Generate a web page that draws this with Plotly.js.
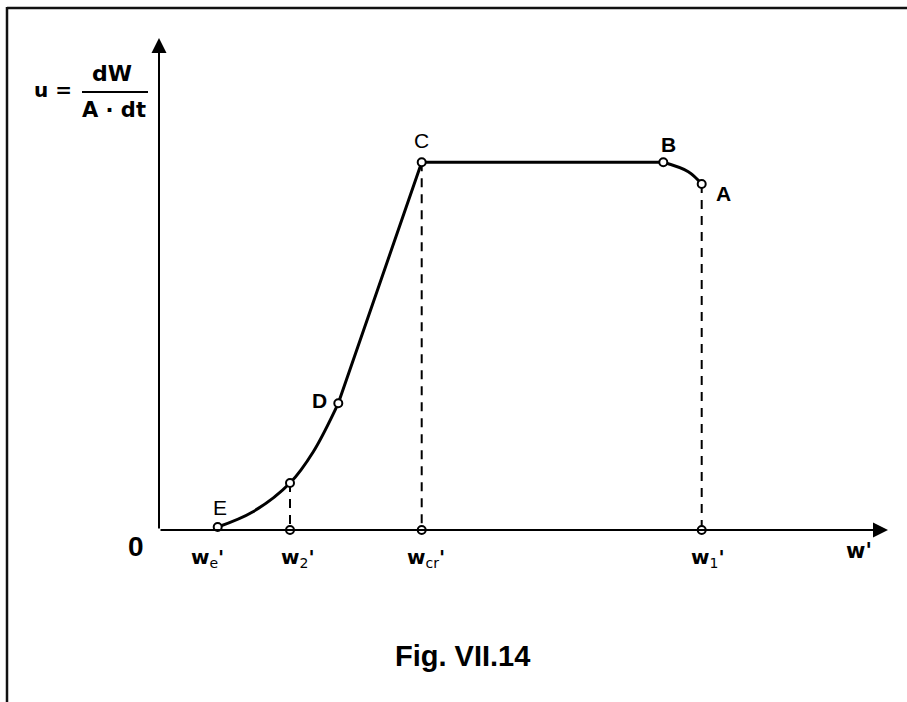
<!DOCTYPE html>
<html>
<head>
<meta charset="utf-8">
<script src="https://cdn.plot.ly/plotly-3.0.1.min.js"></script>
<style>html,body{margin:0;padding:0;background:#fff;}#chart{width:907px;height:702px;}</style>
</head>
<body>
<div id="chart"></div>
<script>
// ---- Data (arbitrary units) ----
// Curved segment E -> w2 point -> D
var curveEDx = [5.87, 9.4, 13.1, 15.43, 17.93];
var curveEDy = [0.3, 1.83, 4.7, 7.83, 12.67];
// Straight segments D -> C -> B
var lineDCBx = [17.93, 26.27, 50.43];
var lineDCBy = [12.67, 36.77, 36.77];
// Curved segment B -> A
var curveBAx = [50.43, 52.93, 54.27];
var curveBAy = [36.77, 35.83, 34.6];
// Labelled points on the curve
var pointNames = ["E", "", "D", "C", "B", "A"];
var pointX = [5.87, 13.1, 17.93, 26.27, 50.43, 54.27];
var pointY = [0.3, 4.7, 12.67, 36.77, 36.77, 34.6];
// Characteristic abscissas on the w' axis
var axisMarkX = [13.1, 26.27, 54.27];
var axisMarkY = [0, 0, 0];
var tickLabels = ["w<sub>e</sub>'", "w<sub>2</sub>'", "w<sub>cr</sub>'", "w<sub>1</sub>'"];
var axisMax = {x: 72.9, y: 49.2};

// ---- Layout helpers (pixel -> paper) ----
var L = 159, R = 19, T = 38, B = 172, W = 907, H = 702;
var pw = W - L - R, ph = H - T - B;
function px(x) { return (x - L) / pw; }
function py(y) { return (H - B - y) / ph; }

var font = "Liberation Sans, Arial, Helvetica, sans-serif";
var heavy = "DejaVu Sans, Liberation Sans, sans-serif";
var black = "#000";

var traces = [];
traces.push({x: curveEDx, y: curveEDy, mode: "lines", line: {color: black, width: 3, shape: "spline", smoothing: 1}, hoverinfo: "skip"});
traces.push({x: lineDCBx, y: lineDCBy, mode: "lines", line: {color: black, width: 3}, hoverinfo: "skip"});
traces.push({x: curveBAx, y: curveBAy, mode: "lines", line: {color: black, width: 3, shape: "spline", smoothing: 1}, hoverinfo: "skip"});
// dashed drops to the axis
var dropIdx = [1, 3, 5];
dropIdx.forEach(function (i) {
  traces.push({x: [pointX[i], pointX[i]], y: [pointY[i], 0], mode: "lines", line: {color: black, width: 2, dash: "9px,7px"}, hoverinfo: "skip"});
});
// markers
traces.push({x: pointX.concat(axisMarkX), y: pointY.concat(axisMarkY), mode: "markers",
  marker: {symbol: "circle", size: 8, color: "#fff", line: {color: black, width: 2}}, hoverinfo: "skip", cliponaxis: false});

var tickX = [pointX[0], pointX[1], pointX[3], pointX[5]];
var tickOffsets = [-10, 8, 4, 6];

var annotations = [];
// axis arrows
annotations.push({x: axisMax.x, y: 0, ax: 0, ay: 0, xref: "x", yref: "y", axref: "x", ayref: "y",
  showarrow: true, arrowhead: 2, arrowsize: 1.5, arrowwidth: 2, arrowcolor: black, standoff: 0, startstandoff: 0, text: ""});
annotations.push({x: 0, y: axisMax.y, ax: 0, ay: 0, xref: "x", yref: "y", axref: "x", ayref: "y",
  showarrow: true, arrowhead: 2, arrowsize: 1.5, arrowwidth: 2, arrowcolor: black, standoff: 0, startstandoff: 0, text: ""});

// point labels
var labelPix = {E: [220, 507, false], D: [319, 400, true], C: [421, 140, false], B: [668, 144, true], A: [723, 194, true]};
pointNames.forEach(function (n) {
  if (!n) return;
  var p = labelPix[n];
  annotations.push({xref: "paper", yref: "paper", x: px(p[0]), y: py(p[1]), xanchor: "center", yanchor: "middle", showarrow: false,
    text: p[2] ? "<b>" + n + "</b>" : n, font: {family: font, size: 21, color: black}});
});

// tick labels under the axis
tickLabels.forEach(function (t, i) {
  var xp = L + tickX[i] * pw / axisMax.x + tickOffsets[i];
  var parts = t.split("<sub>");
  var sub = parts[1].split("</sub>");
  var txt = "<b>" + parts[0] + "</b><sub>" + sub[0] + "</sub><b>" + sub[1] + "</b>";
  annotations.push({xref: "paper", yref: "paper", x: px(xp), y: py(558), xanchor: "center", yanchor: "middle", showarrow: false,
    text: txt, font: {family: heavy, size: 20, color: black}});
});
annotations.push({xref: "paper", yref: "paper", x: px(136), y: py(546), xanchor: "center", yanchor: "middle", showarrow: false,
  text: "<b>0</b>", font: {family: font, size: 28, color: black}});
annotations.push({xref: "paper", yref: "paper", x: px(859), y: py(551), xanchor: "center", yanchor: "middle", showarrow: false,
  text: "<b>w'</b>", font: {family: heavy, size: 21, color: black}});

// y-axis label u = dW / (A · dt)
annotations.push({xref: "paper", yref: "paper", x: px(53), y: py(90), xanchor: "center", yanchor: "middle", showarrow: false,
  text: "<b>u =</b>", font: {family: heavy, size: 20, color: black}});
annotations.push({xref: "paper", yref: "paper", x: px(112), y: py(73), xanchor: "center", yanchor: "middle", showarrow: false,
  text: "<b>dW</b>", font: {family: heavy, size: 22, color: black}});
annotations.push({xref: "paper", yref: "paper", x: px(114), y: py(110), xanchor: "center", yanchor: "middle", showarrow: false,
  text: "<b>A · dt</b>", font: {family: heavy, size: 21, color: black}});

// caption
annotations.push({xref: "paper", yref: "paper", x: px(462), y: py(656), xanchor: "center", yanchor: "middle", showarrow: false,
  text: "<b>Fig. VII.14</b>", font: {family: font, size: 29, color: black}});

var shapes = [
  {type: "line", xref: "paper", yref: "paper", x0: px(7), x1: px(907), y0: py(8), y1: py(8), line: {color: "#111", width: 2.5}},
  {type: "line", xref: "paper", yref: "paper", x0: px(7), x1: px(7), y0: py(7), y1: py(702), line: {color: "#111", width: 2.5}},
  {type: "line", xref: "paper", yref: "paper", x0: px(82), x1: px(148), y0: py(92), y1: py(92), line: {color: black, width: 2}}
];

var layout = {
  width: W, height: H,
  margin: {l: L, r: R, t: T, b: B, pad: 0},
  paper_bgcolor: "#fff", plot_bgcolor: "#fff",
  showlegend: false,
  xaxis: {range: [0, axisMax.x], visible: false, fixedrange: true},
  yaxis: {range: [0, axisMax.y], visible: false, fixedrange: true},
  annotations: annotations,
  shapes: shapes
};

Plotly.newPlot("chart", traces, layout, {staticPlot: true, displayModeBar: false});
</script>
</body>
</html>
